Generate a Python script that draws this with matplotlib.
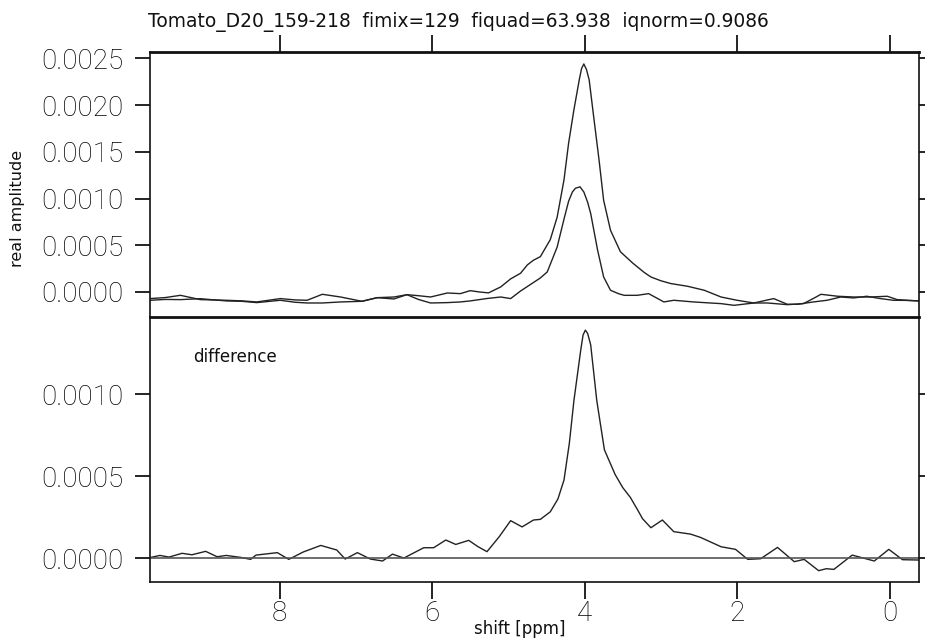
import matplotlib
matplotlib.use("Agg")
import matplotlib.pyplot as plt
from matplotlib.ticker import FormatStrFormatter

plt.rcParams['font.family'] = ['Roboto', 'DejaVu Sans']
plt.rcParams['font.weight'] = 'light'

# values
ppm_a = [9.70, 9.50, 9.30, 9.04, 8.70, 8.50, 8.30, 7.99, 7.80, 7.64, 7.44, 7.20,
         6.92, 6.72, 6.50, 6.33, 6.18, 6.02, 5.80, 5.63, 5.50, 5.38, 5.26, 5.10,
         4.97, 4.84, 4.75, 4.67, 4.58, 4.45, 4.36, 4.27, 4.21, 4.14, 4.07, 4.04,
         4.01, 3.975, 3.94, 3.88, 3.81, 3.75, 3.66, 3.53, 3.37, 3.22, 3.13, 3.00,
         2.87, 2.65, 2.43, 2.21, 2.00, 1.78, 1.60, 1.34, 1.13, 1.00, 0.90, 0.68,
         0.47, 0.25, 0.03, -0.10, -0.25, -0.39]
amp_a = [-0.000071, -0.000060, -0.000036, -0.000082, -0.000089, -0.000095,
         -0.000107, -0.000071, -0.000085, -0.000089, -0.000025, -0.000054,
         -0.000100, -0.000061, -0.000075, -0.000029, -0.000040, -0.000054,
         -0.000011, -0.000018, 0.000014, 0.000000, -0.000010, 0.000054,
         0.000140, 0.000200, 0.000290, 0.000340, 0.000378, 0.000560,
         0.000800, 0.001200, 0.001590, 0.001950, 0.002270, 0.002390,
         0.002440, 0.002380, 0.002270, 0.001870, 0.001410, 0.000980,
         0.000660, 0.000430, 0.000310, 0.000210, 0.000160, 0.000120,
         0.000090, 0.000061, 0.000018, -0.000054, -0.000089, -0.000118,
         -0.000118, -0.000136, -0.000125, -0.000070, -0.000025, -0.000046,
         -0.000054, -0.000054, -0.000046, -0.000082, -0.000090, -0.000096]

ppm_b = [9.70, 9.50, 9.30, 9.04, 8.70, 8.50, 8.30, 7.99, 7.80, 7.64, 7.44, 7.20,
         6.92, 6.72, 6.50, 6.33, 6.18, 6.02, 5.80, 5.63, 5.50, 5.28, 5.10, 4.97,
         4.84, 4.71, 4.58, 4.49, 4.36, 4.27, 4.21, 4.16, 4.12, 4.06, 4.01, 3.96,
         3.92, 3.83, 3.75, 3.66, 3.55, 3.48, 3.31, 3.16, 2.96, 2.83, 2.57, 2.21,
         2.04, 1.78, 1.52, 1.34, 1.21, 1.00, 0.82, 0.64, 0.47, 0.30, 0.12, -0.05,
         -0.20, -0.39]
amp_b = [-0.000089, -0.000080, -0.000082, -0.000072, -0.000096, -0.000100,
         -0.000114, -0.000089, -0.000110, -0.000118, -0.000118, -0.000107,
         -0.000100, -0.000061, -0.000054, -0.000029, -0.000080, -0.000118,
         -0.000114, -0.000107, -0.000096, -0.000070, -0.000054, -0.000071,
         0.000010, 0.000080, 0.000150, 0.000214, 0.000480, 0.000780,
         0.000970, 0.001070, 0.001110, 0.001125, 0.001070, 0.000960,
         0.000840, 0.000450, 0.000160, 0.000018, -0.000020, -0.000036,
         -0.000036, -0.000018, -0.000107, -0.000089, -0.000107, -0.000125,
         -0.000143, -0.000118, -0.000071, -0.000132, -0.000132, -0.000107,
         -0.000089, -0.000054, -0.000064, -0.000046, -0.000071, -0.000089,
         -0.000090, -0.000096]

ppm_d = [9.70, 9.57, 9.45, 9.28, 9.15, 8.97, 8.82, 8.70, 8.51, 8.38, 8.31, 8.03,
         7.88, 7.69, 7.46, 7.25, 7.14, 6.98, 6.81, 6.65, 6.52, 6.37, 6.11, 5.98,
         5.82, 5.69, 5.52, 5.40, 5.28, 5.12, 4.97, 4.82, 4.67, 4.58, 4.45, 4.35,
         4.27, 4.20, 4.14, 4.05, 4.02, 3.99, 3.96, 3.92, 3.84, 3.74, 3.60, 3.50,
         3.40, 3.30, 3.24, 3.13, 2.98, 2.83, 2.61, 2.48, 2.21, 2.02, 1.86, 1.69,
         1.47, 1.25, 1.12, 0.93, 0.83, 0.73, 0.49, 0.20, 0.01, -0.17, -0.38]
diff_d = [0.000003, 0.000016, 0.000006, 0.000029, 0.000020, 0.000041,
          0.000008, 0.000016, 0.000004, -0.000008, 0.000018, 0.000033,
          -0.000008, 0.000037, 0.000077, 0.000049, -0.000006, 0.000033,
          -0.000006, -0.000018, 0.000024, 0.000000, 0.000063, 0.000063,
          0.000110, 0.000083, 0.000108, 0.000070, 0.000039, 0.000130,
          0.000228, 0.000190, 0.000232, 0.000236, 0.000282, 0.000360,
          0.000476, 0.000700, 0.000960, 0.001270, 0.001360, 0.001390,
          0.001370, 0.001300, 0.000960, 0.000660, 0.000510, 0.000430,
          0.000370, 0.000290, 0.000240, 0.000185, 0.000232, 0.000161,
          0.000146, 0.000126, 0.000069, 0.000053, -0.000008, -0.000004,
          0.000065, -0.000022, -0.000008, -0.000077, -0.000065, -0.000069,
          0.000018, -0.000018, 0.000053, -0.000010, -0.000012]

x_ticks = [8, 6, 4, 2, 0]
top_yticks = [0.0, 0.0005, 0.0010, 0.0015, 0.0020, 0.0025]
bot_yticks = [0.0, 0.0005, 0.0010]

title = "Tomato_D20_159-218  fimix=129  fiquad=63.938  iqnorm=0.9086"
line_col = '#222222'
txt_col = '#000000'
small_font = dict(family=['DejaVu Sans'], weight='normal', color='#111111')

fig = plt.figure(figsize=(9.25, 6.41), dpi=100)
ax2 = fig.add_axes([150 / 925, 1 - 582 / 641, 769.3 / 925, 265 / 641])
ax1 = fig.add_axes([150 / 925, 1 - 317 / 641, 769.3 / 925, 265 / 641])
ax1.patch.set_alpha(0)

ax1.plot(ppm_a, amp_a, color=line_col, lw=1.0)
ax1.plot(ppm_b, amp_b, color=line_col, lw=1.0)
ax2.plot(ppm_d, diff_d, color=line_col, lw=1.0)
ax2.axhline(0, color='#555555', lw=1.2)

for ax in (ax1, ax2):
    ax.set_xlim(9.7, -0.39)
    ax.set_xticks(x_ticks)
    for s in ax.spines.values():
        s.set_linewidth(1.2)
        s.set_color('#111111')
    ax.yaxis.set_major_formatter(FormatStrFormatter('%.4f'))
    ax.tick_params(axis='y', which='both', left=True, right=True, direction='out',
                   length=11, width=1.2, pad=8, labelsize=20, colors=txt_col)

ax1.set_ylim(-0.000268, 0.002568)
ax1.set_yticks(top_yticks)
ax1.spines['top'].set_linewidth(2.0)
ax1.spines['bottom'].set_linewidth(2.0)
ax1.tick_params(axis='x', top=True, bottom=False, labeltop=False, labelbottom=False,
                direction='out', length=12, width=1.2)

ax2.set_ylim(-0.000146, 0.00147)
ax2.set_yticks(bot_yticks)
ax2.spines['top'].set_visible(False)
ax2.tick_params(axis='x', top=False, bottom=True, direction='out', length=12,
                width=1.2, pad=1, labelsize=20, colors=txt_col)

fig.text(148 / 925, 1 - 22 / 641, title, fontsize=13.4, ha='left', va='center',
         **small_font)
fig.text(18 / 925, 1 - 208 / 641, "real amplitude", fontsize=11.5, rotation=90,
         ha='center', va='center', **small_font)
fig.text(193 / 925, 1 - 357 / 641, "difference", fontsize=12, ha='left',
         va='center', **small_font)
fig.text(520 / 925, 1 - 629 / 641, "shift [ppm]", fontsize=12, ha='center',
         va='center', **small_font)

fig.savefig("out.png", dpi=100)
